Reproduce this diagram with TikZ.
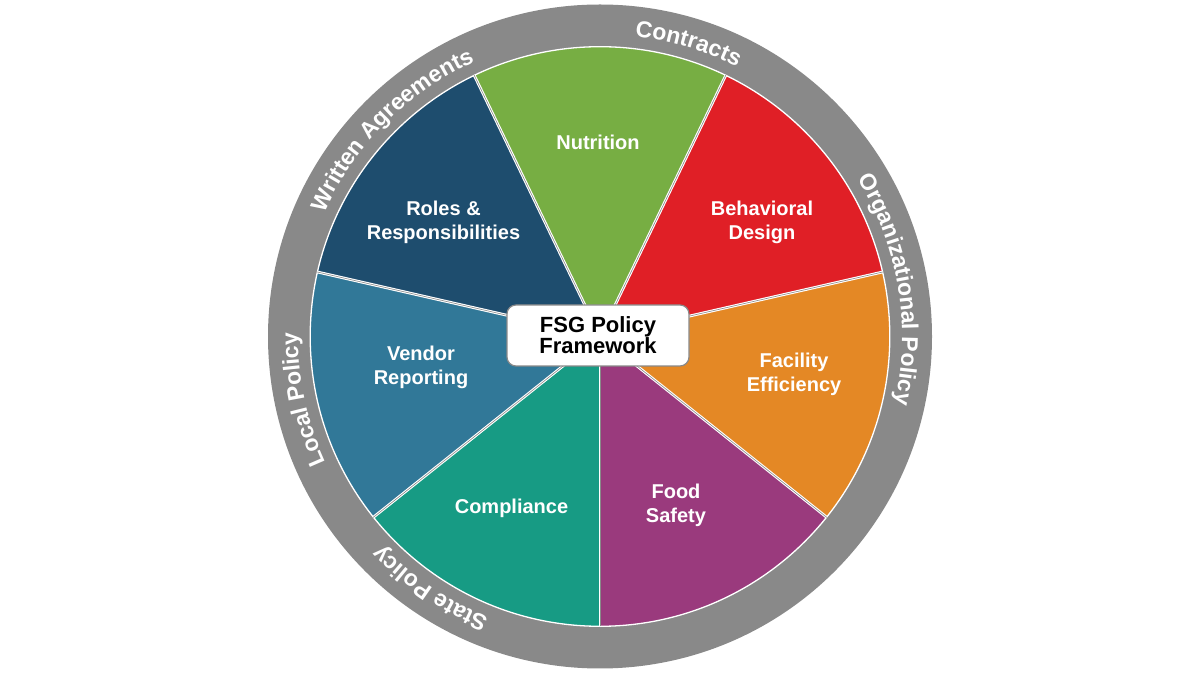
\documentclass[tikz,border=0pt]{standalone}
\usepackage{fontspec}
\setmainfont{Liberation Sans}
\usetikzlibrary{decorations.text}
\definecolor{ringgray}{HTML}{898989}
\definecolor{cnut}{HTML}{77AE43}
\definecolor{cbeh}{HTML}{E01F26}
\definecolor{cfac}{HTML}{E48825}
\definecolor{cfood}{HTML}{9A3A7D}
\definecolor{ccomp}{HTML}{179B84}
\definecolor{cvend}{HTML}{317898}
\definecolor{croles}{HTML}{1E4D6E}
\newcommand\ringfont{\bfseries\fontsize{23}{23}\selectfont}
\tikzset{
  lab/.style={text=white, font=\bfseries\fontsize{20}{24}\selectfont, align=center},
  ringtext/.style={decorate, decoration={text along path, text={|\ringfont|#1}, text align=center, text color=white}},
  centerbox/.style={draw=ringgray, line width=1.2pt, fill=white, rounded corners=9pt,
    minimum width=182pt, minimum height=61pt, inner sep=0pt,
    font=\bfseries\fontsize{22}{21}\selectfont, align=center}
}
\begin{document}
\begin{tikzpicture}[x=1pt,y=1pt]
\useasboundingbox (0,0) rectangle (1200,675);
\coordinate (c) at (600,338.5);
\begin{scope}[shift={(600,338.5)}]
  \fill[ringgray] (0,0) circle[radius=332];
  \foreach \a/\b/\col in {64.286/115.714/cnut, 12.857/64.286/cbeh, -38.571/12.857/cfac,
      -90/-38.571/cfood, -141.429/-90/ccomp, -192.857/-141.429/cvend, 115.714/167.143/croles}{
    \fill[\col] (0,0) -- (\a:289.5) arc[start angle=\a, end angle=\b, radius=289.5] -- cycle;
  }
  \draw[white, line width=1.3pt] (0,0) circle[radius=289.8];
  \foreach \a in {64.286, 12.857, -38.571, -90, -141.429, -192.857, 115.714}{
    \draw[white, line width=2.8pt] (0,0) -- (\a:290);
    \draw[ringgray, line width=0.6pt] (0,0) -- (\a:290);
  }
  \path[ringtext=Contracts] (133.2:302) arc[start angle=133.2, end angle=13.2, radius=302];
  \path[ringtext=Written Agreements] (195.2:302) arc[start angle=195.2, end angle=75.2, radius=302];
  \path[ringtext=Organizational Policy] (69.3:302) arc[start angle=69.3, end angle=-50.7, radius=302];
  \path[ringtext=Local Policy] (252:302) arc[start angle=252, end angle=132, radius=302];
  \path[ringtext=State Policy] (296:302) arc[start angle=296, end angle=176, radius=302];
\end{scope}
\node[lab] (nut) at (598,533) {Nutrition};
\node[lab] (roles) at (443.5,453) {Roles \&\\Responsibilities};
\node[lab] (beh) at (762,453) {Behavioral\\Design};
\node[lab] (fac) at (794,300.5) {Facility\\Efficiency};
\node[lab] (food) at (676,170) {Food\\Safety};
\node[lab] (comp) at (511.5,167) {Compliance};
\node[lab] (vend) at (421,308) {Vendor\\Reporting};
\node[centerbox] (box) at (598,339.5) {FSG Policy\\Framework};
\end{tikzpicture}
\end{document}
